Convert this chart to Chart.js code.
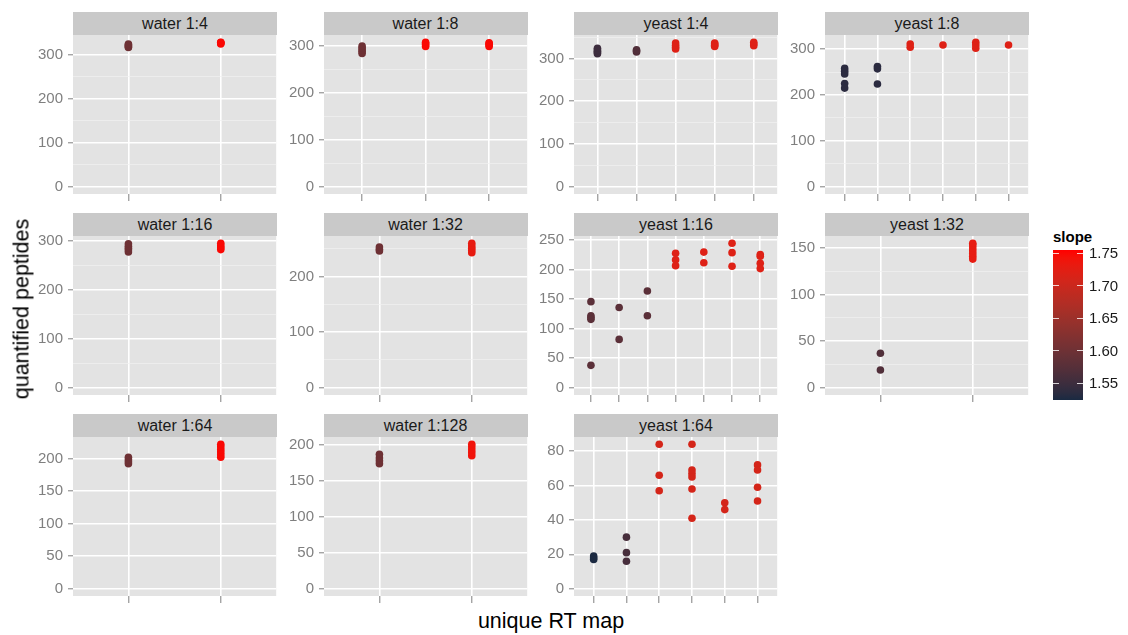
<!DOCTYPE html>
<html>
<head>
<meta charset="utf-8">
<script src="https://cdn.jsdelivr.net/npm/chart.js@4.4.1/dist/chart.umd.min.js"></script>
<style>
  body { margin: 0; background: #fff; font-family: "Liberation Sans", Arial, sans-serif; }
  #wrap { position: relative; width: 1128px; height: 635px; overflow: hidden; }
  canvas { position: absolute; }
  .strip { position: absolute; background: #c9c9c9; color: #1a1a1a; font-size: 16px; text-align: center; height: 23px; line-height: 23px; }
  .title { position: absolute; color: #000; font-size: 21.5px; white-space: nowrap; }
  .leg { position: absolute; font-size: 15px; color: #1a1a1a; }
</style>
</head>
<body>
<div id="wrap"></div>
<script>
// facet titles, in panel order (row by row)
const panelTitles = ["water 1:4", "water 1:8", "yeast 1:4", "yeast 1:8",
                     "water 1:16", "water 1:32", "yeast 1:16", "yeast 1:32",
                     "water 1:64", "water 1:128", "yeast 1:64"];
// y tick step for each panel
const panelSteps = [100, 100, 100, 100, 100, 100, 50, 50, 50, 50, 20];

// quantified peptides, grouped by RT map (x category), and slope per category
const water4 = [[316, 318, 320, 322, 324], [324, 326, 327, 328]];
const water4Slope = [1.60, 1.75];
const water8 = [[284, 288, 292, 296, 300], [299, 302, 305, 308], [299, 302, 305, 307]];
const water8Slope = [1.60, 1.75, 1.75];
const yeast4 = [[311, 314, 317, 320, 324], [315, 318, 320], [322, 326, 331, 336], [328, 331, 334, 336], [330, 334, 338]];
const yeast4Slope = [1.55, 1.57, 1.72, 1.72, 1.72];
const yeast8 = [[258, 252, 246, 225, 215], [262, 257, 224], [311, 304], [309], [315, 309, 302], [309]];
const yeast8Slope = [1.535, 1.535, 1.72, 1.72, 1.72, 1.72];
const water16 = [[277, 281, 285, 289, 294], [282, 286, 290, 295]];
const water16Slope = [1.60, 1.75];
const water32 = [[246, 249, 253], [243, 247, 251, 255, 260]];
const water32Slope = [1.60, 1.73];
const yeast16 = [[146, 122, 119, 116, 38], [136, 82], [164, 122], [228, 217, 207], [230, 212], [245, 229, 206], [226, 223, 211, 202]];
const yeast16Slope = [1.58, 1.58, 1.58, 1.72, 1.72, 1.72, 1.72];
const yeast32 = [[37, 19], [138, 141, 144, 147, 150, 153, 155]];
const yeast32Slope = [1.57, 1.73];
const water64 = [[192, 195, 198, 202], [202, 206, 210, 214, 218, 222]];
const water64Slope = [1.60, 1.75];
const water128 = [[174, 178, 182, 187], [185, 189, 193, 197, 201]];
const water128Slope = [1.60, 1.74];
const yeast64 = [[19, 18, 17], [30, 21, 16], [84, 66, 57], [84, 69, 67, 65, 58, 41], [50, 46], [72, 69, 59, 51]];
const yeast64Slope = [1.525, 1.56, 1.71, 1.71, 1.71, 1.71];

// colour scale
const slopeRange = [1.524, 1.755];
const legendTicks = [1.55, 1.60, 1.65, 1.70, 1.75];
const lowColour = "#1a2a42", highColour = "#ff0000";

const panelValues = [water4, water8, yeast4, yeast8, water16, water32, yeast16, yeast32, water64, water128, yeast64];
const panelSlopes = [water4Slope, water8Slope, yeast4Slope, yeast8Slope, water16Slope, water32Slope,
                     yeast16Slope, yeast32Slope, water64Slope, water128Slope, yeast64Slope];

// ---- colour helpers (Lab interpolation like ggplot) ----
function hexRgb(h) { return [1, 3, 5].map(i => parseInt(h.substr(i, 2), 16)); }
function toLab(rgb) {
  const lin = c => { c /= 255; return c <= 0.04045 ? c / 12.92 : Math.pow((c + 0.055) / 1.055, 2.4); };
  const [r, g, b] = rgb.map(lin);
  const X = (r * 0.4124 + g * 0.3576 + b * 0.1805) / 0.95047;
  const Y = r * 0.2126 + g * 0.7152 + b * 0.0722;
  const Z = (r * 0.0193 + g * 0.1192 + b * 0.9505) / 1.08883;
  const f = t => t > 0.008856 ? Math.cbrt(t) : 7.787 * t + 16 / 116;
  return [116 * f(Y) - 16, 500 * (f(X) - f(Y)), 200 * (f(Y) - f(Z))];
}
function fromLab([L, a, b]) {
  const fy = (L + 16) / 116, fx = fy + a / 500, fz = fy - b / 200;
  const fi = t => t > 0.206893 ? t * t * t : (t - 16 / 116) / 7.787;
  const X = fi(fx) * 0.95047, Y = fi(fy), Z = fi(fz) * 1.08883;
  const r = X * 3.2406 - Y * 1.5372 - Z * 0.4986;
  const g = -X * 0.9689 + Y * 1.8758 + Z * 0.0415;
  const bb = X * 0.0557 - Y * 0.2040 + Z * 1.0570;
  const gam = c => { c = c <= 0.0031308 ? 12.92 * c : 1.055 * Math.pow(c, 1 / 2.4) - 0.055; return Math.round(Math.max(0, Math.min(1, c)) * 255); };
  return "rgb(" + [r, g, bb].map(gam).join(",") + ")";
}
const labLow = toLab(hexRgb(lowColour)), labHigh = toLab(hexRgb(highColour));
function slopeColour(s) {
  let t = (s - slopeRange[0]) / (slopeRange[1] - slopeRange[0]);
  t = Math.max(0, Math.min(1, t));
  return fromLab(labLow.map((v, i) => v + (labHigh[i] - v) * t));
}

// ---- layout ----
const colLefts = [73, 323.5, 574, 825];
const rowTops = [35, 236, 437];
const plotW = 204, plotH = 159, axW = 48, padT = 8, axH = 10;
const wrap = document.getElementById("wrap");

const panelBg = {
  id: "panelBg",
  beforeDraw(chart) {
    const a = chart.chartArea, c = chart.ctx;
    c.save();
    c.fillStyle = "#e3e3e3";
    c.fillRect(a.left, a.top, a.right - a.left, a.bottom - a.top);
    c.restore();
  }
};

panelTitles.forEach((title, i) => {
  const row = Math.floor(i / 4), col = i % 4;
  const left = colLefts[col], top = rowTops[row];
  const groups = panelValues[i], slopes = panelSlopes[i], step = panelSteps[i];

  const points = [], colours = [];
  groups.forEach((vals, k) => vals.forEach(v => {
    points.push({ x: k + 1, y: v });
    colours.push(slopeColour(slopes[k]));
  }));
  const yMax = Math.max(...groups.flat());

  const strip = document.createElement("div");
  strip.className = "strip";
  strip.style.left = left + "px";
  strip.style.top = (top - 23) + "px";
  strip.style.width = plotW + "px";
  strip.textContent = title;
  wrap.appendChild(strip);

  const cv = document.createElement("canvas");
  const cw = axW + plotW + 3, ch = padT + plotH + axH;
  cv.width = cw; cv.height = ch;
  cv.style.width = cw + "px"; cv.style.height = ch + "px";
  cv.style.left = (left - axW) + "px";
  cv.style.top = (top - padT) + "px";
  wrap.appendChild(cv);

  const isMajor = v => Math.abs(v % step) < 1e-6;

  new Chart(cv, {
    type: "scatter",
    data: {
      datasets: [{
        data: points,
        pointBackgroundColor: colours,
        pointBorderWidth: 0,
        pointRadius: 3.8,
        pointHoverRadius: 3.8
      }]
    },
    options: {
      responsive: false,
      animation: false,
      events: [],
      layout: { padding: { top: padT, right: 3, left: 0, bottom: 0 } },
      plugins: { legend: { display: false }, tooltip: { enabled: false } },
      scales: {
        x: {
          type: "linear",
          min: 0.4,
          max: groups.length + 0.6,
          afterFit: s => { s.height = axH; s.paddingLeft = 0; s.paddingRight = 0; },
          ticks: { stepSize: 1, includeBounds: false, callback: () => "", padding: 0 },
          grid: { color: "#ffffff", lineWidth: 1.6, tickColor: "#7f7f7f", tickLength: 7, tickWidth: 1 },
          border: { display: false }
        },
        y: {
          min: -0.05 * yMax,
          max: 1.05 * yMax,
          afterFit: s => { s.width = axW; s.paddingTop = 0; s.paddingBottom = 0; },
          ticks: {
            stepSize: step / 2,
            includeBounds: false,
            color: "#7f7f7f",
            padding: 5,
            font: { family: "Liberation Sans", size: 15 },
            callback: v => isMajor(v) ? String(v) : ""
          },
          grid: {
            color: ctx => isMajor(ctx.tick.value) ? "#ffffff" : "#f1f1f1",
            lineWidth: ctx => isMajor(ctx.tick.value) ? 1.6 : 0.7,
            tickColor: ctx => isMajor(ctx.tick.value) ? "#7f7f7f" : "rgba(0,0,0,0)",
            tickLength: 5,
            tickWidth: 1
          },
          border: { display: false }
        }
      }
    },
    plugins: [panelBg]
  });
});

// axis titles
const yTitle = document.createElement("div");
yTitle.className = "title";
yTitle.textContent = "quantified peptides";
yTitle.style.left = "22px";
yTitle.style.top = "309px";
yTitle.style.transform = "translate(-50%, -50%) rotate(-90deg)";
wrap.appendChild(yTitle);

const xTitle = document.createElement("div");
xTitle.className = "title";
xTitle.textContent = "unique RT map";
xTitle.style.left = "551px";
xTitle.style.top = "621px";
xTitle.style.transform = "translate(-50%, -50%)";
wrap.appendChild(xTitle);

// colour bar legend
const barTop = 250, barH = 150, barLeft = 1053, barW = 30;
const legTitle = document.createElement("div");
legTitle.className = "leg";
legTitle.style.left = barLeft + "px";
legTitle.style.top = "228px";
legTitle.style.fontWeight = "bold";
legTitle.style.color = "#000";
legTitle.textContent = "slope";
wrap.appendChild(legTitle);

const stops = [];
for (let k = 0; k <= 20; k++) {
  const s = slopeRange[0] + (slopeRange[1] - slopeRange[0]) * k / 20;
  stops.push(slopeColour(s) + " " + (k * 5) + "%");
}
const bar = document.createElement("div");
bar.style.cssText = `position:absolute;left:${barLeft}px;top:${barTop}px;width:${barW}px;height:${barH}px;background:linear-gradient(to top, ${stops.join(",")});`;
wrap.appendChild(bar);

legendTicks.forEach(v => {
  const y = barTop + barH * (slopeRange[1] - v) / (slopeRange[1] - slopeRange[0]);
  [barLeft, barLeft + barW - 6].forEach(x => {
    const m = document.createElement("div");
    m.style.cssText = `position:absolute;left:${x}px;top:${y - 0.5}px;width:6px;height:1px;background:rgba(255,255,255,0.8);`;
    wrap.appendChild(m);
  });
  const lab = document.createElement("div");
  lab.className = "leg";
  lab.style.left = (barLeft + barW + 6) + "px";
  lab.style.top = (y - 9) + "px";
  lab.textContent = v.toFixed(2);
  wrap.appendChild(lab);
});
</script>
</body>
</html>
